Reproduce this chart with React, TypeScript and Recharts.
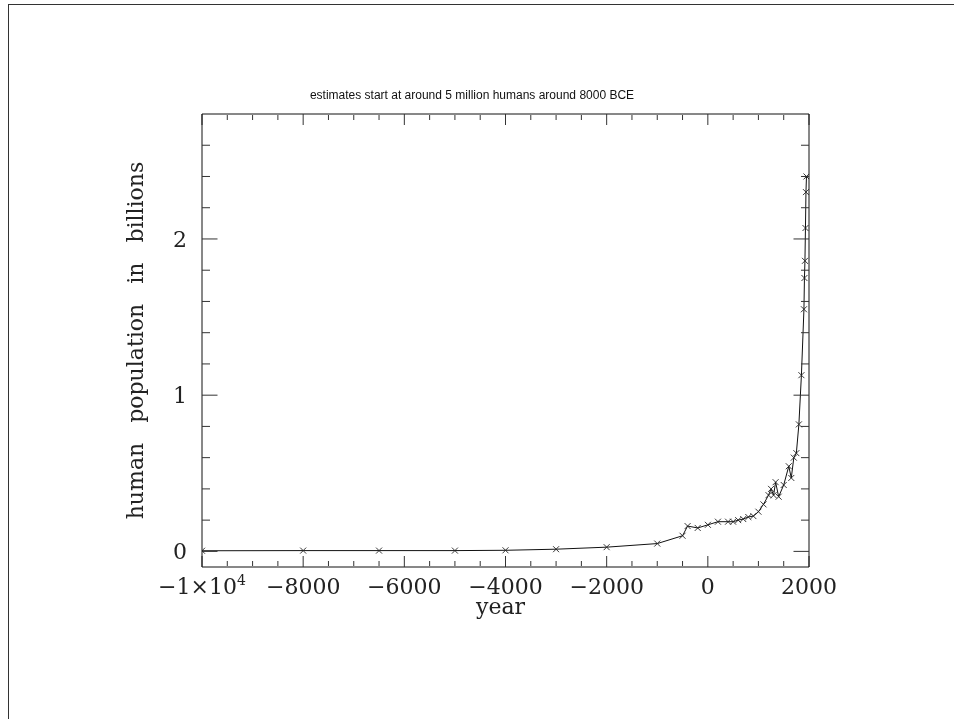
import React from 'react';
import { LineChart, Line, XAxis, YAxis, Label } from 'recharts';

const years = [-10000, -8000, -6500, -5000, -4000, -3000, -2000, -1000, -500, -400, -200, 1, 200, 400, 500, 600, 700, 800, 900, 1000, 1100, 1200, 1250, 1300, 1340, 1400, 1500, 1600, 1650, 1700, 1750, 1800, 1850, 1900, 1910, 1920, 1930, 1940, 1950];
const population = [0.004, 0.005, 0.005, 0.005, 0.007, 0.014, 0.027, 0.05, 0.1, 0.162, 0.15, 0.17, 0.19, 0.19, 0.19, 0.2, 0.207, 0.22, 0.226, 0.254, 0.301, 0.36, 0.4, 0.36, 0.443, 0.35, 0.425, 0.545, 0.47, 0.6, 0.629, 0.813, 1.128, 1.55, 1.75, 1.86, 2.07, 2.3, 2.4];

const xMajorTicks = [-10000, -8000, -6000, -4000, -2000, 0, 2000];
const xMinorTicks = [-9500, -9000, -8500, -7500, -7000, -6500, -5500, -5000, -4500, -3500, -3000, -2500, -1500, -1000, -500, 500, 1000, 1500];
const yMajorTicks = [0, 1, 2];
const yMinorTicks = [0.2, 0.4, 0.6, 0.8, 1.2, 1.4, 1.6, 1.8, 2.2, 2.4, 2.6];

const xDomain = [-10000, 2000];
const yDomain = [-0.1, 2.8];

const titleText = 'estimates start at around 5 million humans around 8000 BCE';
const xLabelText = 'year';
const yLabelText = 'human population in billions';

const data = years.map((year, i) => ({ year, population: population[i] }));

const SERIF = '"DejaVu Serif", serif';
const TEXT_COLOR = '#222';

const CrossDot = (props: any) => {
  const { cx, cy } = props;
  if (cx == null || cy == null) return <g />;
  const s = 3;
  return (
    <g>
      <line x1={cx - s} y1={cy - s} x2={cx + s} y2={cy + s} stroke="#222" strokeWidth={0.9} />
      <line x1={cx - s} y1={cy + s} x2={cx + s} y2={cy - s} stroke="#222" strokeWidth={0.9} />
    </g>
  );
};

const EmptyTick = () => <g />;

const XTick = (props: any) => {
  const { x, y, payload } = props;
  const v = payload.value as number;
  if (v === -10000) {
    return (
      <text x={x} y={y + 27} textAnchor="middle" fontFamily={SERIF} fontSize={22} fill={TEXT_COLOR}>
        <tspan>−1×10</tspan>
        <tspan fontSize={14} dy={-9}>4</tspan>
      </text>
    );
  }
  const label = v < 0 ? '−' + Math.abs(v) : String(v);
  return (
    <text x={x} y={y + 27} textAnchor="middle" fontFamily={SERIF} fontSize={22} fill={TEXT_COLOR}>
      {label}
    </text>
  );
};

const YTick = (props: any) => {
  const { x, y, payload } = props;
  return (
    <text x={x} y={y} dy="0.36em" textAnchor="end" fontFamily={SERIF} fontSize={22} fill={TEXT_COLOR}>
      {String(payload.value)}
    </text>
  );
};

const XLabel = (props: any) => {
  const vb = props.viewBox || { x: 194, y: 559, width: 607, height: 60 };
  return (
    <text x={vb.x + vb.width / 2 - 5} y={vb.y + 47} textAnchor="middle" fontFamily={SERIF} fontSize={22} fill={TEXT_COLOR}>
      {xLabelText}
    </text>
  );
};

const YLabel = (props: any) => {
  const vb = props.viewBox || { x: 114, y: 106, width: 80, height: 453 };
  const cx = vb.x + vb.width - 59;
  const cy = vb.y + vb.height / 2;
  return (
    <text x={cx} y={cy} transform={`rotate(-90 ${cx} ${cy})`} textAnchor="middle" fontFamily={SERIF} fontSize={22} fill={TEXT_COLOR} style={{ wordSpacing: '13px' }}>
      {yLabelText}
    </text>
  );
};

const Title = (props: any) => {
  const vb = props.viewBox || { x: 194, y: 106, width: 607, height: 0 };
  return (
    <text x={vb.x + 270} y={vb.y - 15} textAnchor="middle" fontFamily='"Liberation Sans", Arial, sans-serif' fontSize={12} fill="#111">
      {titleText}
    </text>
  );
};

const tickStroke = { stroke: '#333', strokeWidth: 1 };
const frameLine = { stroke: '#111', strokeWidth: 1 };

export default function App() {
  return (
    <div style={{ position: 'relative', width: 940, height: 700 }}>
      <div style={{ position: 'fixed', left: 8, top: 4, right: 0, height: 1, background: '#333' }} />
      <div style={{ position: 'fixed', left: 8, top: 4, bottom: 0, width: 1, background: '#333' }} />
      <LineChart width={940} height={700} data={data} margin={{ top: 106, right: 139, bottom: 81, left: 114 }}>
        <XAxis
          xAxisId="main"
          dataKey="year"
          type="number"
          domain={xDomain}
          allowDataOverflow
          ticks={xMajorTicks}
          interval={0}
          tickLine={false}
          tickSize={0}
          tickMargin={0}
          height={60}
          axisLine={frameLine}
          tick={<XTick />}
          label={<Label content={XLabel} />}
        />
        <XAxis xAxisId="bmaj" dataKey="year" type="number" orientation="bottom" mirror height={1} domain={xDomain} allowDataOverflow ticks={xMajorTicks} interval={0} tick={EmptyTick} tickSize={11} axisLine={false} tickLine={tickStroke} />
        <XAxis xAxisId="bmin" dataKey="year" type="number" orientation="bottom" mirror height={1} domain={xDomain} allowDataOverflow ticks={xMinorTicks} interval={0} tick={EmptyTick} tickSize={5} axisLine={false} tickLine={tickStroke} />
        <XAxis xAxisId="tmaj" dataKey="year" type="number" orientation="top" mirror height={1} domain={xDomain} allowDataOverflow ticks={xMajorTicks} interval={0} tick={EmptyTick} tickSize={11} axisLine={frameLine} tickLine={tickStroke} label={<Label content={Title} />} />
        <XAxis xAxisId="tmin" dataKey="year" type="number" orientation="top" mirror height={1} domain={xDomain} allowDataOverflow ticks={xMinorTicks} interval={0} tick={EmptyTick} tickSize={5} axisLine={false} tickLine={tickStroke} />

        <YAxis
          yAxisId="main"
          type="number"
          domain={yDomain}
          allowDataOverflow
          ticks={yMajorTicks}
          interval={0}
          tickLine={false}
          tickSize={0}
          tickMargin={15}
          width={80}
          axisLine={frameLine}
          tick={<YTick />}
          label={<Label content={YLabel} />}
        />
        <YAxis yAxisId="lmaj" type="number" orientation="left" mirror width={0.01} domain={yDomain} allowDataOverflow ticks={yMajorTicks} interval={0} tick={EmptyTick} tickSize={15.5} axisLine={false} tickLine={tickStroke} />
        <YAxis yAxisId="lmin" type="number" orientation="left" mirror width={0.01} domain={yDomain} allowDataOverflow ticks={yMinorTicks} interval={0} tick={EmptyTick} tickSize={8} axisLine={false} tickLine={tickStroke} />
        <YAxis yAxisId="rmaj" type="number" orientation="right" mirror width={0.01} domain={yDomain} allowDataOverflow ticks={yMajorTicks} interval={0} tick={EmptyTick} tickSize={15.5} axisLine={frameLine} tickLine={tickStroke} />
        <YAxis yAxisId="rmin" type="number" orientation="right" mirror width={0.01} domain={yDomain} allowDataOverflow ticks={yMinorTicks} interval={0} tick={EmptyTick} tickSize={8} axisLine={false} tickLine={tickStroke} />

        <Line
          xAxisId="main"
          yAxisId="main"
          type="linear"
          dataKey="population"
          stroke="#111"
          strokeWidth={1}
          dot={CrossDot}
          activeDot={false}
          isAnimationActive={false}
        />
      </LineChart>
    </div>
  );
}
